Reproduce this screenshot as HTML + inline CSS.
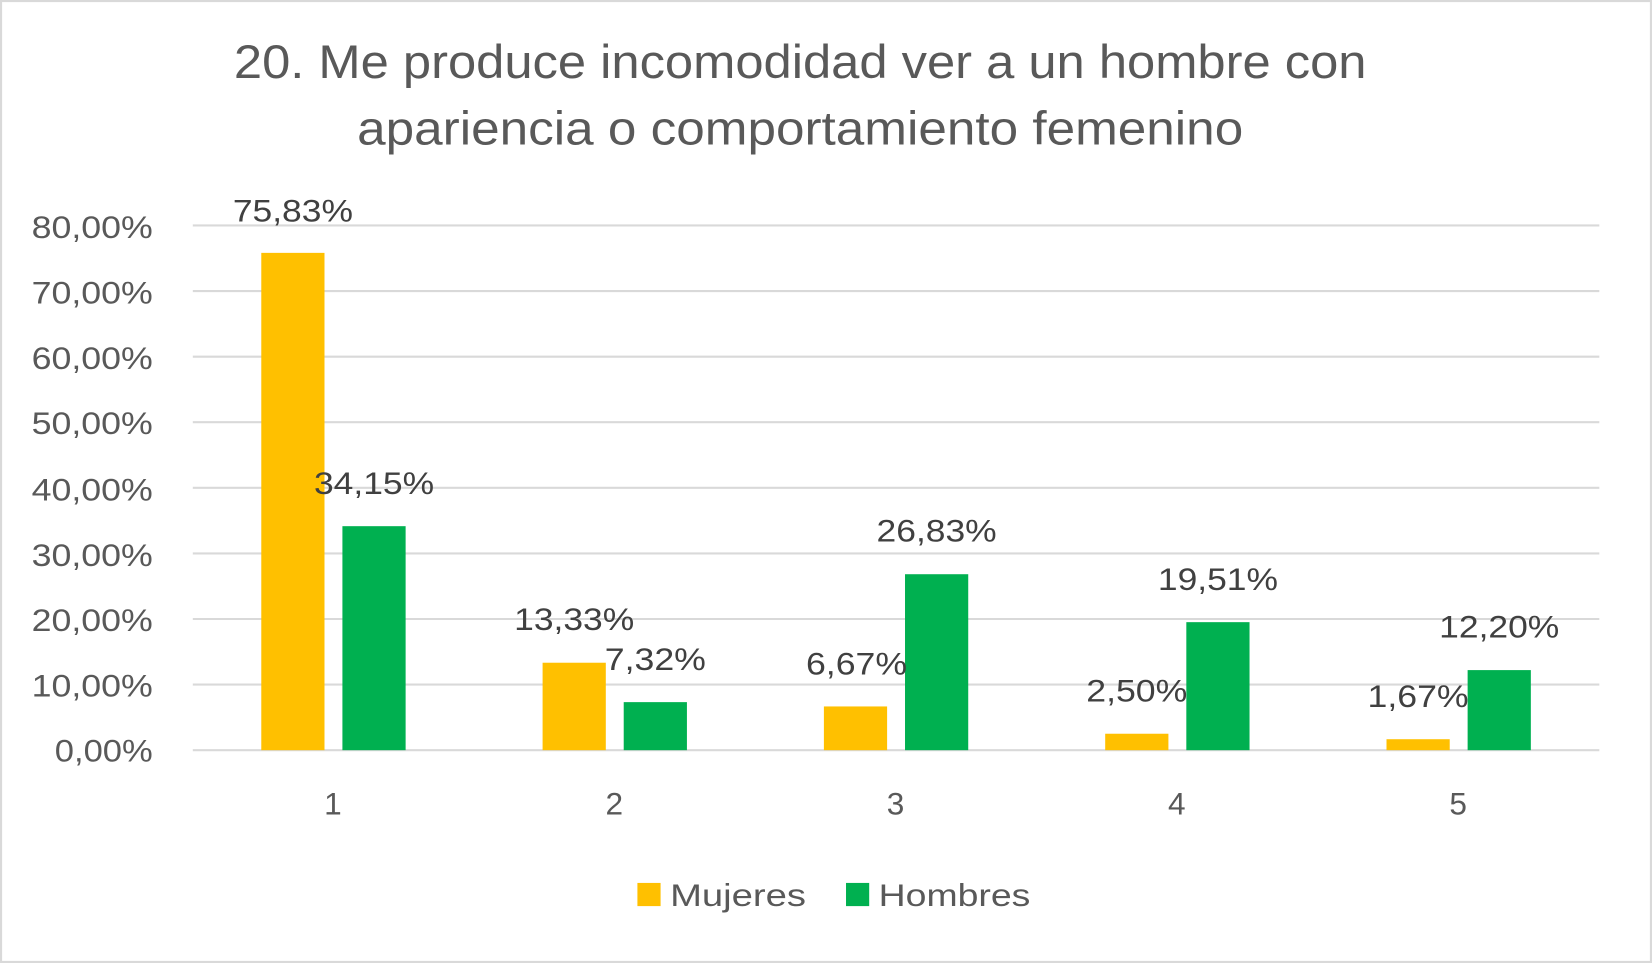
<!DOCTYPE html>
<html><head><meta charset="utf-8"><style>html,body{margin:0;padding:0;background:#fff}svg{display:block}</style></head>
<body>
<svg width="1652" height="963" viewBox="0 0 1568 914" preserveAspectRatio="none" xmlns="http://www.w3.org/2000/svg" font-family="'Liberation Sans', sans-serif">
<rect x="1" y="1" width="1566" height="912" fill="#fff" stroke="#d9d9d9" stroke-width="2"/>
<g fill="#595959" font-size="45" lengthAdjust="spacingAndGlyphs">
<text x="222" y="74" textLength="1075" lengthAdjust="spacingAndGlyphs">20. Me produce incomodidad ver a un hombre con</text>
<text x="339" y="137" textLength="841" lengthAdjust="spacingAndGlyphs">apariencia o comportamiento femenino</text>
</g>
<g stroke="#d9d9d9" stroke-width="2">
<line x1="183" x2="1518" y1="214" y2="214"/><line x1="183" x2="1518" y1="276.25" y2="276.25"/>
<line x1="183" x2="1518" y1="338.5" y2="338.5"/><line x1="183" x2="1518" y1="400.75" y2="400.75"/>
<line x1="183" x2="1518" y1="463" y2="463"/><line x1="183" x2="1518" y1="525.25" y2="525.25"/>
<line x1="183" x2="1518" y1="587.5" y2="587.5"/><line x1="183" x2="1518" y1="649.75" y2="649.75"/>
<line x1="183" x2="1518" y1="712" y2="712"/>
</g>
<g fill="#595959" font-size="30">
<text x="30" y="226" textLength="115" lengthAdjust="spacingAndGlyphs">80,00%</text>
<text x="30" y="288" textLength="115" lengthAdjust="spacingAndGlyphs">70,00%</text>
<text x="30" y="350" textLength="115" lengthAdjust="spacingAndGlyphs">60,00%</text>
<text x="30" y="412" textLength="115" lengthAdjust="spacingAndGlyphs">50,00%</text>
<text x="30" y="475" textLength="115" lengthAdjust="spacingAndGlyphs">40,00%</text>
<text x="30" y="537" textLength="115" lengthAdjust="spacingAndGlyphs">30,00%</text>
<text x="30" y="599" textLength="115" lengthAdjust="spacingAndGlyphs">20,00%</text>
<text x="30" y="661" textLength="115" lengthAdjust="spacingAndGlyphs">10,00%</text>
<text x="52" y="723" textLength="93" lengthAdjust="spacingAndGlyphs">0,00%</text>
</g>
<g fill="#FFC000">
<rect x="248" y="240" width="60" height="472"/>
<rect x="515" y="629" width="60" height="83"/>
<rect x="782" y="670.5" width="60" height="41.5"/>
<rect x="1049" y="696.4" width="60" height="15.6"/>
<rect x="1316" y="701.6" width="60" height="10.4"/>
</g>
<g fill="#00B050">
<rect x="325" y="499.4" width="60" height="212.6"/>
<rect x="592" y="666.4" width="60" height="45.6"/>
<rect x="859" y="545" width="60" height="167"/>
<rect x="1126" y="590.5" width="60" height="121.5"/>
<rect x="1393" y="636" width="60" height="76"/>
</g>
<g fill="#404040" font-size="30">
<text x="221" y="210" textLength="114" lengthAdjust="spacingAndGlyphs">75,83%</text>
<text x="298" y="469" textLength="114" lengthAdjust="spacingAndGlyphs">34,15%</text>
<text x="488" y="598" textLength="114" lengthAdjust="spacingAndGlyphs">13,33%</text>
<text x="574" y="636" textLength="96" lengthAdjust="spacingAndGlyphs">7,32%</text>
<text x="765" y="640" textLength="96" lengthAdjust="spacingAndGlyphs">6,67%</text>
<text x="832" y="514" textLength="114" lengthAdjust="spacingAndGlyphs">26,83%</text>
<text x="1031" y="666" textLength="96" lengthAdjust="spacingAndGlyphs">2,50%</text>
<text x="1099" y="560" textLength="114" lengthAdjust="spacingAndGlyphs">19,51%</text>
<text x="1298" y="671" textLength="96" lengthAdjust="spacingAndGlyphs">1,67%</text>
<text x="1366" y="605" textLength="114" lengthAdjust="spacingAndGlyphs">12,20%</text>
</g>
<g fill="#595959" font-size="30" text-anchor="middle">
<text x="316" y="773">1</text><text x="583" y="773">2</text><text x="850" y="773">3</text>
<text x="1117" y="773">4</text><text x="1384" y="773">5</text>
</g>
<rect x="605" y="838" width="22" height="22" fill="#FFC000"/>
<text x="636" y="860" fill="#595959" font-size="30" textLength="129" lengthAdjust="spacingAndGlyphs">Mujeres</text>
<rect x="803" y="838" width="22" height="22" fill="#00B050"/>
<text x="834" y="860" fill="#595959" font-size="30" textLength="144" lengthAdjust="spacingAndGlyphs">Hombres</text>
</svg>
</body></html>
